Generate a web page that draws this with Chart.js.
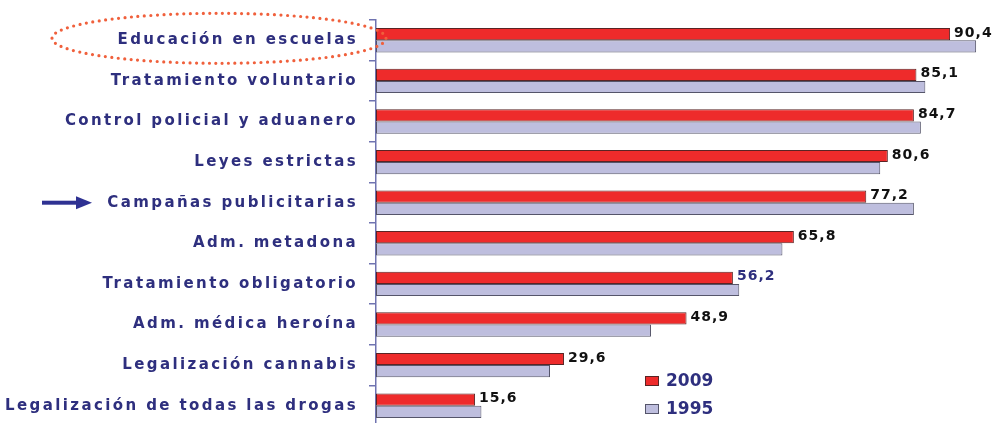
<!DOCTYPE html>
<html>
<head>
<meta charset="utf-8">
<script src="https://cdn.jsdelivr.net/npm/chart.js@4.4.1/dist/chart.umd.min.js"></script>
<style>
  html, body { margin: 0; padding: 0; background: #fff; overflow: hidden; }
  #wrap { width: 996px; height: 423px; overflow: hidden; }
</style>
</head>
<body>
<div id="wrap"><canvas id="chart" width="996" height="446"></canvas></div>
<script>
(() => {
  'use strict';

  // categorías (de arriba a abajo)
  const categories = [
    'Educación en escuelas',
    'Tratamiento voluntario',
    'Control policial y aduanero',
    'Leyes estrictas',
    'Campañas publicitarias',
    'Adm. metadona',
    'Tratamiento obligatorio',
    'Adm. médica heroína',
    'Legalización cannabis',
    'Legalización de todas las drogas'
  ];
  const seriesLabels = ['2009', '1995'];
  const values2009 = [90.4, 85.1, 84.7, 80.6, 77.2, 65.8, 56.2, 48.9, 29.6, 15.6];
  const values1995 = [94.5, 86.5, 85.8, 79.4, 84.7, 64.0, 57.2, 43.3, 27.4, 16.6];

  const navy = '#2e2f7e';
  const axisColor = '#6f73b0';

  // espaciado de letras para las etiquetas del eje
  const letterSpacingPlugin = {
    id: 'letterSpacing',
    beforeDraw: (chart) => {
      chart.ctx.letterSpacing = '2.4px';
    }
  };

  // valores al final de la barra 2009
  const valueLabels = {
    id: 'valueLabels',
    afterDatasetsDraw: (chart) => {
      const ctx = chart.ctx;
      const meta = chart.getDatasetMeta(0);
      ctx.save();
      ctx.letterSpacing = '1px';
      ctx.font = 'bold 14px "DejaVu Sans"';
      ctx.textBaseline = 'middle';
      ctx.textAlign = 'left';
      meta.data.forEach((bar, i) => {
        ctx.fillStyle = (i === 6) ? navy : '#111';
        const txt = values2009[i].toFixed(1).replace('.', ',');
        ctx.fillText(txt, bar.x + 4, bar.y - 1);
      });
      ctx.restore();
    }
  };

  // leyenda, elipse punteada y flecha
  const decorations = {
    id: 'decorations',
    afterDraw: (chart) => {
      const ctx = chart.ctx;
      const yScale = chart.scales.y;
      ctx.save();
      ctx.letterSpacing = '0px';

      //leyenda
      const legendY = [381, 409];
      chart.data.datasets.forEach((ds, i) => {
        ctx.fillStyle = ds.backgroundColor;
        ctx.strokeStyle = ds.borderColor;
        ctx.lineWidth = 1;
        ctx.fillRect(645, legendY[i] - 5, 14, 10);
        ctx.strokeRect(645.5, legendY[i] - 4.5, 13, 9);
        ctx.fillStyle = navy;
        ctx.font = 'bold 17px "DejaVu Sans"';
        ctx.textBaseline = 'middle';
        ctx.fillText(ds.label, 666, legendY[i] + 1);
      });

      //elipse alrededor de la primera categoría
      const cy = yScale.getPixelForValue(0) - 2;
      ctx.beginPath();
      ctx.ellipse(219, cy, 167, 25, 0, 0, Math.PI * 2);
      ctx.setLineDash([0, 6.5]);
      ctx.lineCap = 'round';
      ctx.lineWidth = 3.2;
      ctx.strokeStyle = '#f0603c';
      ctx.stroke();
      ctx.setLineDash([]);

      //flecha hacia "Campañas publicitarias"
      const ay = yScale.getPixelForValue(4);
      ctx.fillStyle = '#2e3192';
      ctx.fillRect(42, ay - 2, 38, 4);
      ctx.beginPath();
      ctx.moveTo(92, ay);
      ctx.lineTo(76, ay - 6.5);
      ctx.lineTo(76, ay + 6.5);
      ctx.closePath();
      ctx.fill();
      ctx.restore();
    }
  };

  new Chart(document.getElementById('chart'), {
    type: 'bar',
    data: {
      labels: categories,
      datasets: [{
        label: seriesLabels[0],
        data: values2009,
        backgroundColor: '#ee2b2b',
        borderColor: '#5a2424',
        borderWidth: 1,
        borderSkipped: false,
        categoryPercentage: 0.6,
        barPercentage: 1.0
      }, {
        label: seriesLabels[1],
        data: values1995,
        backgroundColor: '#bebede',
        borderColor: '#55556a',
        borderWidth: 1,
        borderSkipped: false,
        categoryPercentage: 0.6,
        barPercentage: 1.0
      }]
    },
    options: {
      indexAxis: 'y',
      responsive: false,
      animation: false,
      layout: {
        padding: { top: 19, right: 4, bottom: 0, left: 0 }
      },
      plugins: {
        legend: { display: false },
        tooltip: { enabled: false }
      },
      scales: {
        x: {
          display: false,
          min: 0,
          max: 97
        },
        y: {
          grid: {
            drawOnChartArea: false,
            offset: true,
            tickLength: 7,
            color: axisColor,
            lineWidth: 1.5
          },
          border: { color: axisColor, width: 1.5 },
          ticks: {
            color: navy,
            padding: 11,
            font: { family: 'DejaVu Sans', weight: 'bold', size: 15 }
          },
          afterFit: (scale) => {
            scale.width = 376;
          }
        }
      }
    },
    plugins: [letterSpacingPlugin, valueLabels, decorations]
  });
})();
</script>
</body>
</html>
